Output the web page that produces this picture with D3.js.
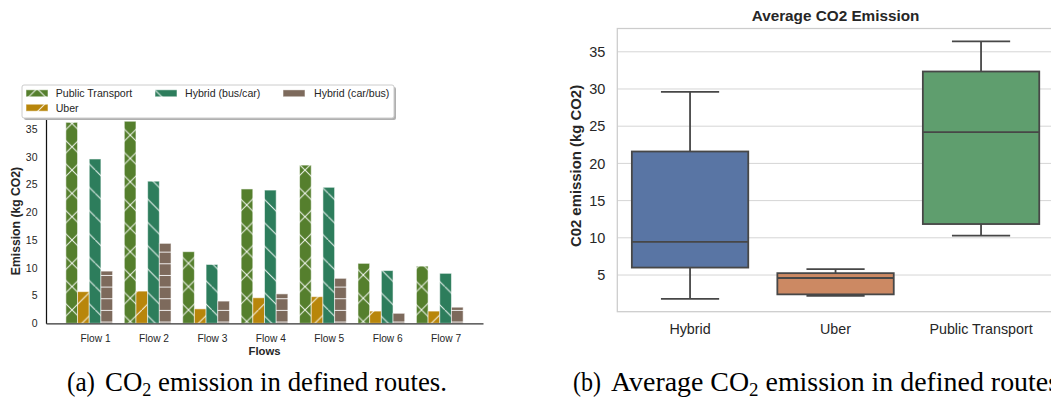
<!DOCTYPE html>
<html>
<head>
<meta charset="utf-8">
<script src="https://cdn.jsdelivr.net/npm/d3@7"></script>
<style>
  html, body { margin: 0; padding: 0; background: #ffffff; }
  svg { display: block; }
</style>
</head>
<body>
<svg id="chart" width="1051" height="403"></svg>
<script>
// ---------- data ----------
const flows = ["Flow 1", "Flow 2", "Flow 3", "Flow 4", "Flow 5", "Flow 6", "Flow 7"];
const seriesNames = ["Public Transport", "Uber", "Hybrid (bus/car)", "Hybrid (car/bus)"];
const publicTransport = [36.2, 36.4, 12.9, 24.2, 28.5, 10.8, 10.3];
const uber            = [5.7, 5.8, 2.6, 4.6, 4.8, 2.2, 2.2];
const hybridBusCar    = [29.6, 25.6, 10.6, 24.0, 24.5, 9.5, 9.0];
const hybridCarBus    = [9.4, 14.4, 4.0, 5.3, 8.1, 1.8, 2.9];
const leftYTicks = [0, 5, 10, 15, 20, 25, 30, 35];

const boxCategories = ["Hybrid", "Uber", "Public Transport"];
const rightYTicks = [5, 10, 15, 20, 25, 30, 35];

const barColors = ["#557f2d", "#b8860b", "#2d7d5c", "#7d6a5c"];
const boxColors = ["#5975a4", "#cc8963", "#5f9e6e"];

const svg = d3.select("#chart");
svg.append("rect").attr("width", 1051).attr("height", 403).attr("fill", "#fff");

// ---------- hatch patterns ----------
const defs = svg.append("defs");
const P = 23.3;
function makePattern(id, color, kind) {
  const h = kind === "h" ? P / 2 : P;
  const pat = defs.append("pattern").attr("id", id)
    .attr("patternUnits", "userSpaceOnUse")
    .attr("width", P).attr("height", h)
    .attr("patternTransform", "translate(72,240)");
  pat.append("rect").attr("width", P).attr("height", h).attr("fill", color);
  const line = (x1, y1, x2, y2) => pat.append("line")
    .attr("x1", x1).attr("y1", y1).attr("x2", x2).attr("y2", y2)
    .attr("stroke", "rgba(255,255,255,0.9)").attr("stroke-width", 1);
  if (kind === "x" || kind === "\\") line(-1, -1, P + 1, P + 1);
  if (kind === "x" || kind === "/") line(-1, P + 1, P + 1, -1);
  if (kind === "h") line(0, 0.5, P, 0.5);
}
const hatchKinds = ["x", "/", "\\", "h"];
seriesNames.forEach((s, j) => makePattern("hatch" + j, barColors[j], hatchKinds[j]));

// ---------- left chart: grouped bars ----------
const seriesValues = [publicTransport, uber, hybridBusCar, hybridCarBus];
const barW = 0.2;
const xL = d3.scaleLinear().domain([-0.44, 7.04]).range([46, 483]);
const yL = d3.scaleLinear().domain([0, 38.1]).range([323.3, 111.8]);

const gL = svg.append("g");
seriesValues.forEach((vals, j) => {
  gL.append("g").selectAll("rect").data(vals).join("rect")
    .attr("x", (d, i) => xL(i + j * barW - barW / 2))
    .attr("width", xL(barW) - xL(0))
    .attr("y", d => yL(d))
    .attr("height", d => yL(0) - yL(d))
    .attr("fill", "url(#hatch" + j + ")")
    .attr("stroke", "rgba(255,255,255,0.55)")
    .attr("stroke-width", 1);
});

const fontSans = "'Liberation Sans', Arial, sans-serif";
const textCol = "#262626";

const yAxisL = gL.append("g").attr("transform", "translate(46,0)")
  .call(d3.axisLeft(yL).tickValues(leftYTicks).tickSize(0).tickPadding(8.5));
yAxisL.select(".domain").attr("stroke", "#111").attr("stroke-width", 1.25);
yAxisL.selectAll("text").attr("font-family", fontSans).attr("font-size", "10.5px").attr("fill", textCol);

const xAxisL = gL.append("g").attr("transform", "translate(0,323.3)")
  .call(d3.axisBottom(xL).tickValues(flows.map((f, i) => i + 2 * barW))
    .tickFormat((d, i) => flows[i]).tickSize(0).tickPadding(11));
xAxisL.select(".domain").attr("stroke", "#333").attr("stroke-width", 1.25);
xAxisL.selectAll("text").attr("font-family", fontSans).attr("font-size", "10.2px").attr("fill", textCol);

gL.append("text").attr("x", (46 + 483) / 2).attr("y", 355)
  .attr("text-anchor", "middle").attr("font-family", fontSans).attr("font-weight", "bold")
  .attr("font-size", "11.3px").attr("fill", textCol).text("Flows");
gL.append("text").attr("transform", "translate(19.5,221) rotate(-90)")
  .attr("text-anchor", "middle").attr("font-family", fontSans).attr("font-weight", "bold")
  .attr("font-size", "12.2px").attr("fill", textCol).text("Emission (kg CO2)");

// legend
const leg = svg.append("g");
leg.append("rect").attr("x", 24).attr("y", 87).attr("width", 372).attr("height", 33)
  .attr("rx", 2).attr("fill", "#b0b0b0");
leg.append("rect").attr("x", 22).attr("y", 85).attr("width", 372).attr("height", 33)
  .attr("rx", 2).attr("fill", "#fff").attr("stroke", "#cccccc").attr("stroke-width", 1);
const legPos = [[26, 93.3], [26, 107.7], [155, 93.3], [283, 93.3]];
const legTextX = [55.7, 55.7, 185, 314];
seriesNames.forEach((s, j) => {
  leg.append("rect").attr("x", legPos[j][0]).attr("y", legPos[j][1] - 3.5)
    .attr("width", 22).attr("height", 7).attr("fill", "url(#hatch" + j + ")")
    .attr("stroke", "rgba(255,255,255,0.55)");
  leg.append("text").attr("x", legTextX[j]).attr("y", legPos[j][1] + 3.8)
    .attr("font-family", fontSans).attr("font-size", "10.6px").attr("fill", textCol).text(s);
});

// ---------- right chart: box plot ----------
const hybridAll = hybridBusCar.concat(hybridCarBus);
const boxData = [hybridAll, uber, publicTransport];

const xR = d3.scaleBand().domain(boxCategories).range([617.3, 617.3 + 3 * 145.5]).padding(0);
const allVals = boxData.flat();
const vmin = d3.min(allVals), vmax = d3.max(allVals), pad = 0.05 * (vmax - vmin);
const yR = d3.scaleLinear().domain([vmin - pad, vmax + pad]).range([311.7, 28.5]);

const gR = svg.append("g");
gR.append("g").selectAll("line").data(rightYTicks).join("line")
  .attr("x1", 617.3).attr("x2", 617.3 + 3 * 145.5)
  .attr("y1", d => yR(d)).attr("y2", d => yR(d))
  .attr("stroke", "#d5d5d5").attr("stroke-width", 1);
gR.append("rect").attr("x", 617.3).attr("y", yR.range()[1])
  .attr("width", 3 * 145.5).attr("height", yR.range()[0] - yR.range()[1])
  .attr("fill", "none").attr("stroke", "#cccccc").attr("stroke-width", 1.25);

const yAxisR = gR.append("g").attr("transform", "translate(617.3,0)")
  .call(d3.axisLeft(yR).tickValues(rightYTicks).tickSize(0).tickPadding(12));
yAxisR.select(".domain").remove();
yAxisR.selectAll("text").attr("font-family", fontSans).attr("font-size", "14.5px").attr("fill", textCol);

const xAxisR = gR.append("g").attr("transform", "translate(0,311.7)")
  .call(d3.axisBottom(xR).tickSize(0).tickPadding(12));
xAxisR.select(".domain").remove();
xAxisR.selectAll("text").attr("font-family", fontSans).attr("font-size", "14.3px").attr("fill", textCol);

const lineCol = "#474747";
boxData.forEach((vals, k) => {
  const s = vals.slice().sort(d3.ascending);
  const q1 = d3.quantile(s, 0.25), med = d3.quantile(s, 0.5), q3 = d3.quantile(s, 0.75);
  const iqr = q3 - q1;
  const lo = d3.min(s.filter(v => v >= q1 - 1.5 * iqr));
  const hi = d3.max(s.filter(v => v <= q3 + 1.5 * iqr));
  const cx = xR(boxCategories[k]) + xR.bandwidth() / 2;
  const bw = xR.bandwidth() * 0.8;
  const g = gR.append("g");
  g.append("line").attr("x1", cx).attr("x2", cx).attr("y1", yR(q3)).attr("y2", yR(hi))
    .attr("stroke", lineCol).attr("stroke-width", 1.8);
  g.append("line").attr("x1", cx).attr("x2", cx).attr("y1", yR(q1)).attr("y2", yR(lo))
    .attr("stroke", lineCol).attr("stroke-width", 1.8);
  [lo, hi].forEach(v => g.append("line").attr("x1", cx - bw / 4).attr("x2", cx + bw / 4)
    .attr("y1", yR(v)).attr("y2", yR(v)).attr("stroke", lineCol).attr("stroke-width", 1.8));
  g.append("rect").attr("x", cx - bw / 2).attr("width", bw)
    .attr("y", yR(q3)).attr("height", yR(q1) - yR(q3))
    .attr("fill", boxColors[k]).attr("stroke", lineCol).attr("stroke-width", 1.8);
  g.append("line").attr("x1", cx - bw / 2).attr("x2", cx + bw / 2)
    .attr("y1", yR(med)).attr("y2", yR(med)).attr("stroke", lineCol).attr("stroke-width", 1.8);
});

gR.append("text").attr("x", 617.3 + 3 * 145.5 / 2).attr("y", 20.5)
  .attr("text-anchor", "middle").attr("font-family", fontSans).attr("font-weight", "bold")
  .attr("font-size", "15.3px").attr("fill", textCol).text("Average CO2 Emission");
gR.append("text").attr("transform", "translate(581,166) rotate(-90)")
  .attr("text-anchor", "middle").attr("font-family", fontSans).attr("font-weight", "bold")
  .attr("font-size", "14.9px").attr("fill", textCol).text("C02 emission (kg CO2)");

// ---------- captions ----------
const serif = "'Liberation Serif', 'Times New Roman', serif";
function caption(label, x0, x1, pre, post, len) {
  svg.append("text").attr("x", x0).attr("y", 391).attr("font-family", serif)
    .attr("font-size", "28px").attr("fill", "#000")
    .attr("textLength", 28).attr("lengthAdjust", "spacingAndGlyphs").text(label);
  const t = svg.append("text").attr("x", x1).attr("y", 391).attr("font-family", serif)
    .attr("font-size", "28px").attr("fill", "#000");
  t.append("tspan").text(pre + "CO");
  t.append("tspan").attr("font-size", "19px").attr("dy", 5).text("2");
  t.append("tspan").attr("dy", -5).text(post);
  if (len) t.attr("textLength", len).attr("lengthAdjust", "spacingAndGlyphs");
}
caption("(a)", 67, 105, "", " emission in defined routes.", 342);
caption("(b)", 573, 611, "Average ", " emission in defined routes", 448);
</script>
</body>
</html>
